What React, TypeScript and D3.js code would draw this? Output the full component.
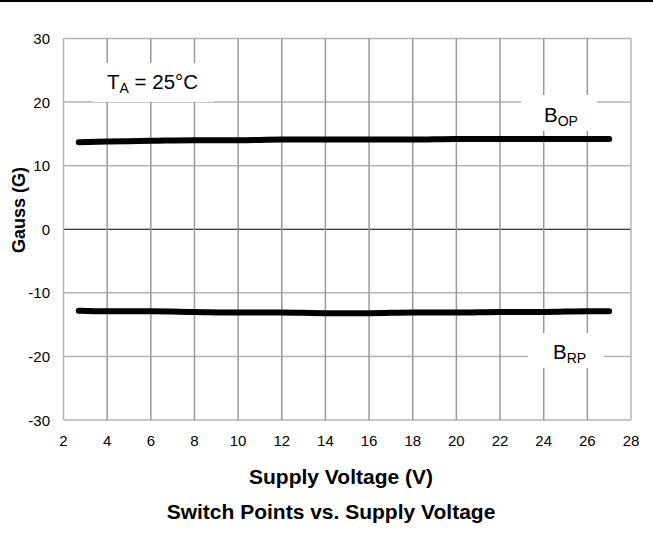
import React from "react";
import * as d3 from "d3";

const voltage = [2.7, 4, 6, 8, 10, 12, 14, 16, 18, 20, 22, 24, 26, 27];
const bop = [13.7, 13.8, 13.9, 14.0, 14.0, 14.1, 14.1, 14.1, 14.1, 14.2, 14.2, 14.2, 14.2, 14.2];
const brp = [-12.8, -12.9, -12.9, -13.0, -13.1, -13.1, -13.2, -13.2, -13.1, -13.1, -13.0, -13.0, -12.9, -12.9];
const xTicks = [2, 4, 6, 8, 10, 12, 14, 16, 18, 20, 22, 24, 26, 28];
const yTicks = [-30, -20, -10, 0, 10, 20, 30];

const W = 653, H = 544;
const L = 63.5, R = 631, T = 38.5, B = 420;
const font = "Arial, 'Liberation Sans', sans-serif";

export default function App() {
  const x = d3.scaleLinear().domain([2, 28]).range([L, R]);
  const y = d3.scaleLinear().domain([-30, 30]).range([B, T]);
  const line = d3.line<[number, number]>().x(d => x(d[0])).y(d => y(d[1])).curve(d3.curveMonotoneX);
  const opPts = voltage.map((v, i) => [v, bop[i]] as [number, number]);
  const rpPts = voltage.map((v, i) => [v, brp[i]] as [number, number]);
  return (
    <svg width={W} height={H} style={{ position: "absolute", left: 0, top: 0 }} fontFamily={font}>
      <rect x={0} y={0} width={W} height={H} fill="#fff" />
      <line x1={0} x2={W} y1={1} y2={1} stroke="#000" strokeWidth={2} />
      {yTicks.map(t => (
        <line key={"h" + t} x1={L} x2={R} y1={y(t)} y2={y(t)} stroke={t === 0 ? "#000" : "#b3b3b3"} strokeWidth={t === 0 ? 1 : 1.5} />
      ))}
      {xTicks.map(t => (
        <line key={"v" + t} x1={x(t)} x2={x(t)} y1={T} y2={B} stroke={t === 2 || t === 28 ? "#b3b3b3" : "#999"} strokeWidth={1.5} />
      ))}
      {/* label boxes */}
      <rect x={93} y={63} width={120} height={39} fill="#fff" />
      <rect x={521} y={95} width={76} height={36} fill="#fff" />
      <rect x={528} y={333} width={76} height={35} fill="#fff" />
      <text x={107} y={89} fontSize={20.5} fill="#000">
        T<tspan fontSize={14} dy={4}>A</tspan><tspan dy={-4}> = 25°C</tspan>
      </text>
      <text x={544} y={122} fontSize={20.5} fill="#000">
        B<tspan fontSize={14} dy={4}>OP</tspan>
      </text>
      <text x={553} y={359} fontSize={20.5} fill="#000">
        B<tspan fontSize={14} dy={4}>RP</tspan>
      </text>
      <path d={line(opPts) || ""} fill="none" stroke="#000" strokeWidth={6} strokeLinecap="round" />
      <path d={line(rpPts) || ""} fill="none" stroke="#000" strokeWidth={6} strokeLinecap="round" />
      {yTicks.map(t => (
        <text key={"yl" + t} x={50} y={y(t) + 5.5} fontSize={15} textAnchor="end" fill="#000">{t}</text>
      ))}
      {xTicks.map(t => (
        <text key={"xl" + t} x={x(t)} y={446} fontSize={15} textAnchor="middle" fill="#000">{t}</text>
      ))}
      <text x={341} y={484} fontSize={21} fontWeight="bold" textAnchor="middle">Supply Voltage (V)</text>
      <text x={331} y={519} fontSize={21} fontWeight="bold" textAnchor="middle">Switch Points vs. Supply Voltage</text>
      <text transform={`translate(25,210) rotate(-90)`} fontSize={18} fontWeight="bold" textAnchor="middle">Gauss (G)</text>
    </svg>
  );
}
